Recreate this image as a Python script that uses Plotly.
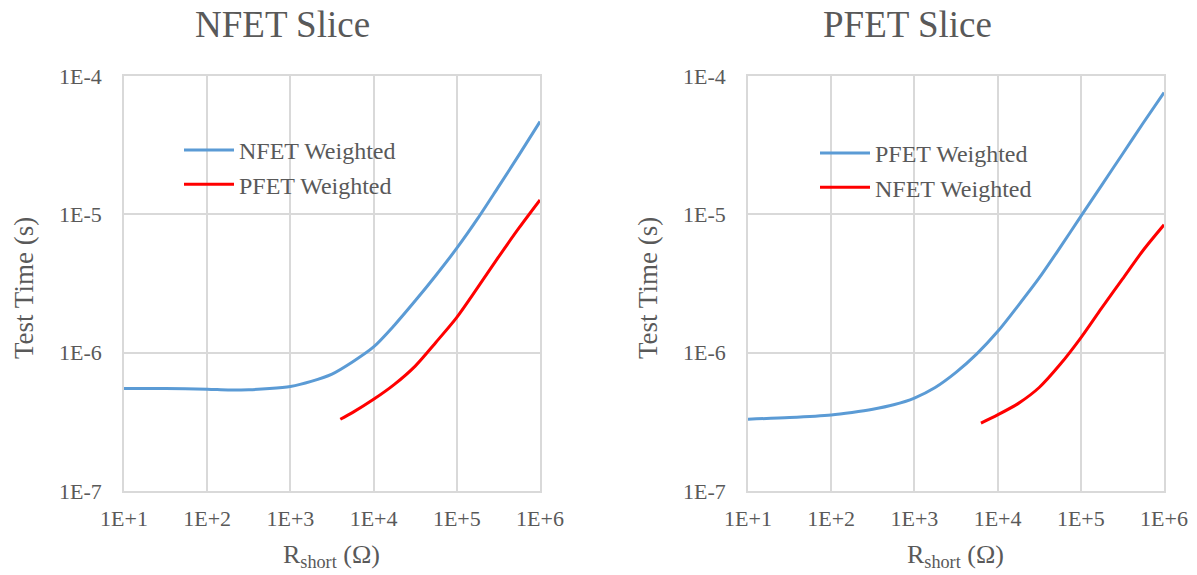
import plotly.graph_objects as go

# ---- data ----
x_tick_vals = [1e1, 1e2, 1e3, 1e4, 1e5, 1e6]
x_tick_text = ["1E+1", "1E+2", "1E+3", "1E+4", "1E+5", "1E+6"]
y_tick_vals = [1e-7, 1e-6, 1e-5, 1e-4]
y_tick_text = ["1E-7", "1E-6", "1E-5", "1E-4"]

# NFET slice
nfet_slice_nfet_x = [10, 31.6, 100, 178, 316, 562, 1000, 1778, 3162, 5623, 10000,
                     17783, 31623, 56234, 100000, 177828, 316228, 562341, 1000000]
nfet_slice_nfet_y = [5.5e-7, 5.5e-7, 5.45e-7, 5.38e-7, 5.4e-7, 5.5e-7, 5.7e-7, 6.2e-7,
                     7.0e-7, 8.6e-7, 1.1e-6, 1.58e-6, 2.37e-6, 3.63e-6, 5.69e-6, 9.3e-6,
                     1.58e-5, 2.7e-5, 4.68e-5]
nfet_slice_pfet_x = [3981, 5623, 10000, 17783, 31623, 56234, 100000, 177828, 316228,
                     562341, 1000000]
nfet_slice_pfet_y = [3.3e-7, 3.7e-7, 4.6e-7, 5.9e-7, 8.0e-7, 1.19e-6, 1.8e-6, 2.95e-6,
                     4.9e-6, 8.0e-6, 1.27e-5]

# PFET slice
pfet_slice_pfet_x = [10, 31.6, 100, 178, 316, 562, 1000, 1778, 3162, 5623, 10000,
                     17783, 31623, 56234, 100000, 177828, 316228, 562341, 1000000]
pfet_slice_pfet_y = [3.3e-7, 3.4e-7, 3.55e-7, 3.7e-7, 3.9e-7, 4.2e-7, 4.7e-7, 5.6e-7,
                     7.2e-7, 9.8e-7, 1.42e-6, 2.2e-6, 3.47e-6, 5.75e-6, 9.66e-6, 1.62e-5,
                     2.72e-5, 4.57e-5, 7.59e-5]
pfet_slice_nfet_x = [6310, 10000, 17783, 31623, 56234, 100000, 177828, 316228, 562341,
                     1000000]
pfet_slice_nfet_y = [3.1e-7, 3.55e-7, 4.3e-7, 5.6e-7, 8.2e-7, 1.28e-6, 2.1e-6, 3.4e-6,
                     5.5e-6, 8.4e-6]

BLUE = "#5b9bd5"
RED = "#ff0000"
TXT = "#595959"
GRID = "#d9d9d9"
FONT = "Liberation Serif"

fig = go.Figure()
fig.add_trace(go.Scatter(x=nfet_slice_nfet_x, y=nfet_slice_nfet_y, mode="lines",
                         name="NFET Weighted",
                         line=dict(color=BLUE, width=3, shape="spline", smoothing=0.8),
                         xaxis="x", yaxis="y", legend="legend"))
fig.add_trace(go.Scatter(x=nfet_slice_pfet_x, y=nfet_slice_pfet_y, mode="lines",
                         name="PFET Weighted",
                         line=dict(color=RED, width=3, shape="spline", smoothing=0.8),
                         xaxis="x", yaxis="y", legend="legend"))
fig.add_trace(go.Scatter(x=pfet_slice_pfet_x, y=pfet_slice_pfet_y, mode="lines",
                         name="PFET Weighted",
                         line=dict(color=BLUE, width=3, shape="spline", smoothing=0.8),
                         xaxis="x2", yaxis="y2", legend="legend2"))
fig.add_trace(go.Scatter(x=pfet_slice_nfet_x, y=pfet_slice_nfet_y, mode="lines",
                         name="NFET Weighted",
                         line=dict(color=RED, width=3, shape="spline", smoothing=0.8),
                         xaxis="x2", yaxis="y2", legend="legend2"))

# page body has an 8px margin: size the figure to fit the window and shift coordinates
OFF = 8
W, H = 1197 - OFF, 575 - OFF
def px(v):
    return (v - OFF) / W
def py(v):
    return 1 - (v - OFF) / H

xaxis_common = dict(type="log", range=[1, 6], tickvals=x_tick_vals, ticktext=x_tick_text,
                    showgrid=True, gridcolor=GRID, gridwidth=1.5, showline=True,
                    linecolor=GRID, linewidth=1.5, mirror=True, zeroline=False,
                    ticks="", ticklabelstandoff=7, automargin=False,
                    tickfont=dict(family=FONT, size=22, color=TXT))
yaxis_common = dict(type="log", range=[-7, -4], tickvals=y_tick_vals, ticktext=y_tick_text,
                    showgrid=True, gridcolor=GRID, gridwidth=1.5, showline=True,
                    linecolor=GRID, linewidth=1.5, mirror=True, zeroline=False,
                    ticks="", ticklabelstandoff=16, automargin=False,
                    tickfont=dict(family=FONT, size=22, color=TXT))

ydom = [py(491), py(76)]
legend_style = dict(xanchor="left", yanchor="top", bgcolor="rgba(0,0,0,0)",
                    font=dict(family=FONT, size=24, color=TXT), tracegroupgap=0,
                    itemwidth=50)

def ann(text, x, y, size, angle=0):
    return dict(text=text, x=px(x), y=py(y), xref="paper", yref="paper",
                xanchor="center", yanchor="middle", showarrow=False, textangle=angle,
                font=dict(family=FONT, size=size, color=TXT))

fig.update_layout(
    width=W, height=H,
    margin=dict(l=0, r=0, t=0, b=0, autoexpand=False),
    paper_bgcolor="white", plot_bgcolor="white",
    font=dict(family=FONT, color=TXT),
    xaxis=dict(domain=[px(124), px(540)], anchor="y", **xaxis_common),
    yaxis=dict(domain=ydom, anchor="x", **yaxis_common),
    xaxis2=dict(domain=[px(748), px(1164)], anchor="y2", **xaxis_common),
    yaxis2=dict(domain=ydom, anchor="x2", **yaxis_common),
    legend=dict(x=px(179), y=py(128), **legend_style),
    legend2=dict(x=px(815), y=py(131), **legend_style),
    annotations=[
        ann("NFET Slice", 282, 24, 37),
        ann("PFET Slice", 907, 24, 37),
        ann("Test Time (s)", 24, 288, 27, -90),
        ann("Test Time (s)", 648, 288, 27, -90),
        ann("R<sub>short</sub> (Ω)", 331, 556, 26),
        ann("R<sub>short</sub> (Ω)", 955, 556, 26),
    ],
)

fig.write_html("out.html")
